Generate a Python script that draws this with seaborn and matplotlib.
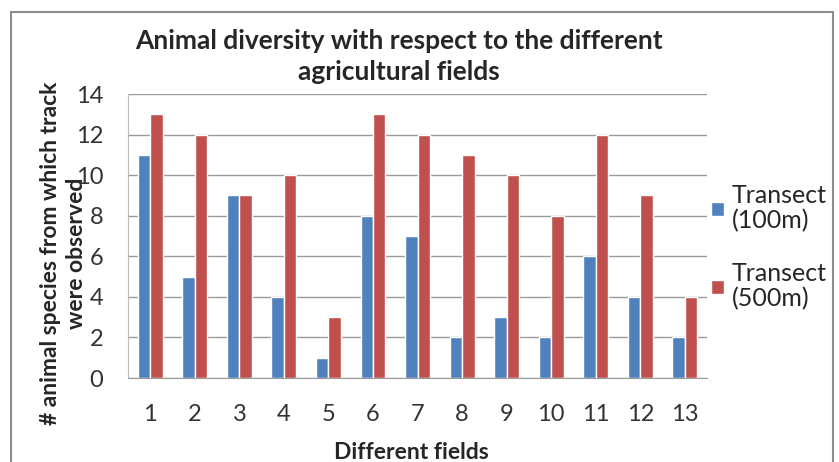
import numpy as np
import pandas as pd
import matplotlib
matplotlib.use('Agg')
import matplotlib.pyplot as plt
import seaborn as sns
from matplotlib.patches import Rectangle, Patch

# Data
fields = ['1', '2', '3', '4', '5', '6', '7', '8', '9', '10', '11', '12', '13']
transect_100 = [11, 5, 9, 4, 1, 8, 7, 2, 3, 2, 6, 4, 2]
transect_500 = [13, 12, 9, 10, 3, 13, 12, 11, 10, 8, 12, 9, 4]
series_names = ['Transect\n(100m)', 'Transect\n(500m)']
colors = ['#4F81BD', '#C0504D']

df = pd.DataFrame({'Field': fields * 2,
                   'Count': transect_100 + transect_500,
                   'Series': [series_names[0]] * len(fields) + [series_names[1]] * len(fields)})

sns.set_style('white')
plt.rcParams['font.family'] = ['Lato', 'DejaVu Sans']

fig = plt.figure(figsize=(8.39, 4.62), dpi=100)
ax = fig.add_axes([0.1526, 0.1818, 0.6901, 0.6147])

sns.barplot(data=df, x='Field', y='Count', hue='Series', palette=colors,
            width=0.56, saturation=1, ax=ax, legend=False)

ax.set_ylim(0, 14)
ax.set_yticks(range(0, 15, 2))
ax.yaxis.grid(True, color='#9a9a9a', linewidth=1)
ax.set_axisbelow(True)
ax.tick_params(axis='both', length=0, labelsize=17, colors='#333333')
ax.tick_params(axis='x', pad=19)
ax.tick_params(axis='y', pad=18)
for s in ['top', 'right']:
    ax.spines[s].set_visible(False)
ax.spines['left'].set_color('#bdbdbd')
ax.spines['bottom'].set_color('#9a9a9a')

ax.set_xlabel('Different fields', fontsize=16.5, fontweight='bold')
ax.xaxis.set_label_coords(0.49, -0.225)
ax.set_ylabel('')
# y label drawn as two lines, like the original
ax.text(-0.134, 0.44, '# animal species from which track', transform=ax.transAxes,
        rotation=90, ha='center', va='center', fontsize=16.5, fontweight='bold')
ax.text(-0.089, 0.44, 'were observed', transform=ax.transAxes,
        rotation=90, ha='center', va='center', fontsize=16.5, fontweight='bold')

fig.text(0.476, 0.878, 'Animal diversity with respect to the different\nagricultural fields',
         ha='center', va='center', fontsize=19, fontweight='bold', linespacing=1.35)

handles = [Patch(facecolor=c, label=n) for c, n in zip(colors, series_names)]
leg = fig.legend(handles=handles, loc='center left', bbox_to_anchor=(0.836, 0.465),
                 frameon=False, fontsize=18, handlelength=0.5, handleheight=0.5,
                 handletextpad=0.3, labelspacing=1.15, borderaxespad=0)
for t in leg.get_texts():
    t.set_linespacing(1.15)

# outer chart border
fig.patches.append(Rectangle((11 / 839, -0.05), 822 / 839, 1 - 12 / 462 + 0.05,
                             transform=fig.transFigure, fill=False,
                             edgecolor='#8c8c8c', linewidth=1.5))

fig.savefig('out.png', dpi=100)
